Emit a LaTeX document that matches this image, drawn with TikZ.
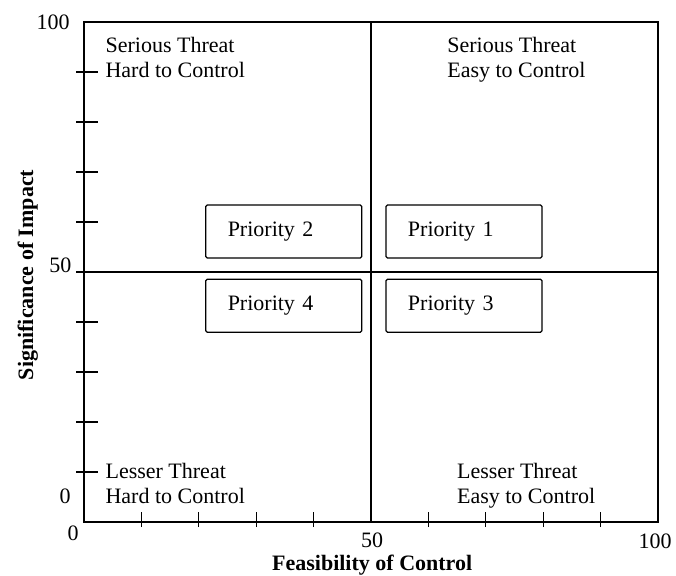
\documentclass[tikz,border=0pt]{standalone}
\usepackage{fontspec}
\setmainfont{Liberation Serif}
\usetikzlibrary{positioning}

\begin{document}
\begin{tikzpicture}[x=5.74pt,y=5pt,line width=1.1pt,
  every node/.style={font=\fontsize{22}{25}\selectfont,inner sep=0pt},
  quad/.style={align=left,anchor=north west},
  prio/.style={draw,line width=1.2pt,rounded corners=1.5pt,minimum width=156pt,minimum height=53pt,text width=112pt,inner xsep=22pt,align=left},
  axlabel/.style={font=\fontsize{22}{25}\selectfont\bfseries}]
  \useasboundingbox (-84pt,-53pt) rectangle ++(676pt,575pt);
  % frame and quadrant lines
  \draw[line width=1.4pt] (0,0) rectangle (100,100);
  \draw (50,0) -- (50,100);
  \draw (0,50) -- (100,50);
  % ticks
  \foreach \t in {10,20,...,90}
    \draw (0,\t) ++(-8pt,0) -- ++(22pt,0);
  \foreach \t in {10,20,30,40,60,70,80,90}
    \draw (\t,0) ++(0,-5pt) -- ++(0,15pt);
  % scale labels
  \node[left] (y100) at (-2.4,100) {100};
  \node[left] (y50) at (-2.1,51.3) {50};
  \node (y0) at (-3.3,5.2) {0};
  \node (x0) at (-1.9,-2.2) {0};
  \node (x50) at (50.2,-3.7) {50};
  \node (x100) at (99.5,-3.9) {100};
  \node[axlabel] (xlab) at (50.2,-8.6) {Feasibility of Control};
  \node[axlabel,rotate=90] (ylab) at (-9.8,49.4) {Significance of Impact};
  % quadrants
  \node[quad] (st1) at (3.66,97) {Serious Threat\\Hard to Control};
  \node[quad] (st2) at (63.2,97) {Serious Threat\\Easy to Control};
  \node[quad] (lt1) at (3.66,11.8) {Lesser Threat\\Hard to Control};
  \node[quad] (lt2) at (64.9,11.8) {Lesser Threat\\Easy to Control};
  % priorities
  \node[prio] (p2) at (34.8,58.1) {Priority 2};
  \node[prio] (p1) [right=23pt of p2] {Priority 1};
  \node[prio] (p4) [below=20pt of p2] {Priority 4};
  \node[prio] (p3) [below=20pt of p1] {Priority 3};
\end{tikzpicture}
\end{document}
